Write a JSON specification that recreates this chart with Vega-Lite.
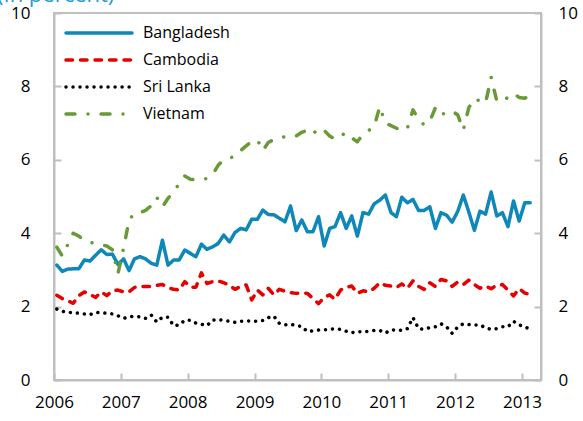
{
  "$schema": "https://vega.github.io/schema/vega-lite/v6.json",
  "width": 487,
  "height": 367,
  "autosize": {"type": "none"},
  "padding": {"left": 54, "top": 13, "right": 42, "bottom": 41},
  "background": "white",
  "config": {"view": {"stroke": "#bfbfbf", "strokeWidth": 2}, "font": "Open Sans"},
  "title": {"text": "(In percent)", "anchor": "start", "frame": "group", "baseline": "bottom", "color": "#1e9bd7", "fontSize": 22, "fontWeight": "normal", "font": "Open Sans", "dx": -57, "dy": 29},
  "data": {"values": [
    {"m":"2006-01","Bangladesh":3.13,"Cambodia":2.31,"Sri Lanka":1.93,"Vietnam":3.62},
    {"m":"2006-02","Bangladesh":2.96,"Cambodia":2.22,"Sri Lanka":1.87,"Vietnam":3.38},
    {"m":"2006-03","Bangladesh":3.02,"Cambodia":2.16,"Sri Lanka":1.85,"Vietnam":3.68},
    {"m":"2006-04","Bangladesh":3.03,"Cambodia":2.09,"Sri Lanka":1.83,"Vietnam":4.0},
    {"m":"2006-05","Bangladesh":3.03,"Cambodia":2.3,"Sri Lanka":1.82,"Vietnam":3.92},
    {"m":"2006-06","Bangladesh":3.27,"Cambodia":2.4,"Sri Lanka":1.8,"Vietnam":3.8},
    {"m":"2006-07","Bangladesh":3.24,"Cambodia":2.33,"Sri Lanka":1.78,"Vietnam":3.75},
    {"m":"2006-08","Bangladesh":3.4,"Cambodia":2.25,"Sri Lanka":1.84,"Vietnam":3.72},
    {"m":"2006-09","Bangladesh":3.55,"Cambodia":2.4,"Sri Lanka":1.83,"Vietnam":3.68},
    {"m":"2006-10","Bangladesh":3.42,"Cambodia":2.3,"Sri Lanka":1.82,"Vietnam":3.65},
    {"m":"2006-11","Bangladesh":3.43,"Cambodia":2.43,"Sri Lanka":1.8,"Vietnam":3.55},
    {"m":"2006-12","Bangladesh":3.15,"Cambodia":2.45,"Sri Lanka":1.75,"Vietnam":2.9},
    {"m":"2007-01","Bangladesh":3.3,"Cambodia":2.4,"Sri Lanka":1.68,"Vietnam":3.6},
    {"m":"2007-02","Bangladesh":2.98,"Cambodia":2.4,"Sri Lanka":1.72,"Vietnam":4.35},
    {"m":"2007-03","Bangladesh":3.3,"Cambodia":2.52,"Sri Lanka":1.74,"Vietnam":4.55},
    {"m":"2007-04","Bangladesh":3.36,"Cambodia":2.55,"Sri Lanka":1.72,"Vietnam":4.56},
    {"m":"2007-05","Bangladesh":3.3,"Cambodia":2.55,"Sri Lanka":1.68,"Vietnam":4.62},
    {"m":"2007-06","Bangladesh":3.18,"Cambodia":2.55,"Sri Lanka":1.77,"Vietnam":4.75},
    {"m":"2007-07","Bangladesh":3.13,"Cambodia":2.58,"Sri Lanka":1.58,"Vietnam":4.98},
    {"m":"2007-08","Bangladesh":3.81,"Cambodia":2.6,"Sri Lanka":1.71,"Vietnam":4.72},
    {"m":"2007-09","Bangladesh":3.13,"Cambodia":2.52,"Sri Lanka":1.71,"Vietnam":4.95},
    {"m":"2007-10","Bangladesh":3.27,"Cambodia":2.47,"Sri Lanka":1.48,"Vietnam":5.13},
    {"m":"2007-11","Bangladesh":3.27,"Cambodia":2.45,"Sri Lanka":1.5,"Vietnam":5.35},
    {"m":"2007-12","Bangladesh":3.54,"Cambodia":2.68,"Sri Lanka":1.63,"Vietnam":5.56},
    {"m":"2008-01","Bangladesh":3.45,"Cambodia":2.53,"Sri Lanka":1.63,"Vietnam":5.47},
    {"m":"2008-02","Bangladesh":3.36,"Cambodia":2.53,"Sri Lanka":1.55,"Vietnam":5.45},
    {"m":"2008-03","Bangladesh":3.7,"Cambodia":2.92,"Sri Lanka":1.52,"Vietnam":5.47},
    {"m":"2008-04","Bangladesh":3.56,"Cambodia":2.63,"Sri Lanka":1.48,"Vietnam":5.49},
    {"m":"2008-05","Bangladesh":3.63,"Cambodia":2.68,"Sri Lanka":1.63,"Vietnam":5.6},
    {"m":"2008-06","Bangladesh":3.72,"Cambodia":2.7,"Sri Lanka":1.65,"Vietnam":5.85},
    {"m":"2008-07","Bangladesh":3.95,"Cambodia":2.65,"Sri Lanka":1.62,"Vietnam":6.0},
    {"m":"2008-08","Bangladesh":3.76,"Cambodia":2.58,"Sri Lanka":1.6,"Vietnam":6.05},
    {"m":"2008-09","Bangladesh":4.02,"Cambodia":2.47,"Sri Lanka":1.57,"Vietnam":6.09},
    {"m":"2008-10","Bangladesh":4.13,"Cambodia":2.55,"Sri Lanka":1.6,"Vietnam":6.25},
    {"m":"2008-11","Bangladesh":4.09,"Cambodia":2.59,"Sri Lanka":1.61,"Vietnam":6.38},
    {"m":"2008-12","Bangladesh":4.38,"Cambodia":2.18,"Sri Lanka":1.61,"Vietnam":6.5},
    {"m":"2009-01","Bangladesh":4.38,"Cambodia":2.45,"Sri Lanka":1.6,"Vietnam":6.54},
    {"m":"2009-02","Bangladesh":4.63,"Cambodia":2.32,"Sri Lanka":1.62,"Vietnam":6.25},
    {"m":"2009-03","Bangladesh":4.51,"Cambodia":2.5,"Sri Lanka":1.7,"Vietnam":6.47},
    {"m":"2009-04","Bangladesh":4.5,"Cambodia":2.32,"Sri Lanka":1.74,"Vietnam":6.55},
    {"m":"2009-05","Bangladesh":4.41,"Cambodia":2.47,"Sri Lanka":1.54,"Vietnam":6.6},
    {"m":"2009-06","Bangladesh":4.31,"Cambodia":2.42,"Sri Lanka":1.5,"Vietnam":6.63},
    {"m":"2009-07","Bangladesh":4.74,"Cambodia":2.38,"Sri Lanka":1.52,"Vietnam":6.64},
    {"m":"2009-08","Bangladesh":4.07,"Cambodia":2.36,"Sri Lanka":1.48,"Vietnam":6.65},
    {"m":"2009-09","Bangladesh":4.36,"Cambodia":2.38,"Sri Lanka":1.46,"Vietnam":6.75},
    {"m":"2009-10","Bangladesh":4.04,"Cambodia":2.36,"Sri Lanka":1.32,"Vietnam":6.81},
    {"m":"2009-11","Bangladesh":4.04,"Cambodia":2.22,"Sri Lanka":1.34,"Vietnam":6.7},
    {"m":"2009-12","Bangladesh":4.45,"Cambodia":2.08,"Sri Lanka":1.36,"Vietnam":6.86},
    {"m":"2010-01","Bangladesh":3.65,"Cambodia":2.25,"Sri Lanka":1.37,"Vietnam":6.8},
    {"m":"2010-02","Bangladesh":4.13,"Cambodia":2.32,"Sri Lanka":1.38,"Vietnam":6.65},
    {"m":"2010-03","Bangladesh":4.18,"Cambodia":2.2,"Sri Lanka":1.4,"Vietnam":6.56},
    {"m":"2010-04","Bangladesh":4.56,"Cambodia":2.45,"Sri Lanka":1.38,"Vietnam":6.65},
    {"m":"2010-05","Bangladesh":4.13,"Cambodia":2.52,"Sri Lanka":1.33,"Vietnam":6.74},
    {"m":"2010-06","Bangladesh":4.47,"Cambodia":2.56,"Sri Lanka":1.29,"Vietnam":6.6},
    {"m":"2010-07","Bangladesh":3.92,"Cambodia":2.36,"Sri Lanka":1.32,"Vietnam":6.49},
    {"m":"2010-08","Bangladesh":4.56,"Cambodia":2.43,"Sri Lanka":1.31,"Vietnam":6.7},
    {"m":"2010-09","Bangladesh":4.52,"Cambodia":2.4,"Sri Lanka":1.33,"Vietnam":6.8},
    {"m":"2010-10","Bangladesh":4.8,"Cambodia":2.5,"Sri Lanka":1.35,"Vietnam":6.9},
    {"m":"2010-11","Bangladesh":4.9,"Cambodia":2.65,"Sri Lanka":1.35,"Vietnam":7.45},
    {"m":"2010-12","Bangladesh":5.04,"Cambodia":2.58,"Sri Lanka":1.28,"Vietnam":7.0},
    {"m":"2011-01","Bangladesh":4.56,"Cambodia":2.56,"Sri Lanka":1.36,"Vietnam":6.93},
    {"m":"2011-02","Bangladesh":4.45,"Cambodia":2.52,"Sri Lanka":1.37,"Vietnam":6.86},
    {"m":"2011-03","Bangladesh":4.98,"Cambodia":2.62,"Sri Lanka":1.35,"Vietnam":6.79},
    {"m":"2011-04","Bangladesh":4.83,"Cambodia":2.5,"Sri Lanka":1.4,"Vietnam":6.86},
    {"m":"2011-05","Bangladesh":4.92,"Cambodia":2.7,"Sri Lanka":1.7,"Vietnam":7.36},
    {"m":"2011-06","Bangladesh":4.62,"Cambodia":2.55,"Sri Lanka":1.4,"Vietnam":7.1},
    {"m":"2011-07","Bangladesh":4.62,"Cambodia":2.47,"Sri Lanka":1.38,"Vietnam":6.95},
    {"m":"2011-08","Bangladesh":4.72,"Cambodia":2.65,"Sri Lanka":1.43,"Vietnam":7.05},
    {"m":"2011-09","Bangladesh":4.13,"Cambodia":2.55,"Sri Lanka":1.45,"Vietnam":7.42},
    {"m":"2011-10","Bangladesh":4.56,"Cambodia":2.74,"Sri Lanka":1.53,"Vietnam":7.22},
    {"m":"2011-11","Bangladesh":4.49,"Cambodia":2.7,"Sri Lanka":1.45,"Vietnam":7.3},
    {"m":"2011-12","Bangladesh":4.3,"Cambodia":2.55,"Sri Lanka":1.27,"Vietnam":7.33},
    {"m":"2012-01","Bangladesh":4.6,"Cambodia":2.67,"Sri Lanka":1.45,"Vietnam":7.22},
    {"m":"2012-02","Bangladesh":5.04,"Cambodia":2.6,"Sri Lanka":1.53,"Vietnam":6.81},
    {"m":"2012-03","Bangladesh":4.58,"Cambodia":2.72,"Sri Lanka":1.51,"Vietnam":7.42},
    {"m":"2012-04","Bangladesh":4.08,"Cambodia":2.6,"Sri Lanka":1.5,"Vietnam":7.67},
    {"m":"2012-05","Bangladesh":4.6,"Cambodia":2.5,"Sri Lanka":1.5,"Vietnam":7.6},
    {"m":"2012-06","Bangladesh":4.52,"Cambodia":2.56,"Sri Lanka":1.42,"Vietnam":7.54},
    {"m":"2012-07","Bangladesh":5.12,"Cambodia":2.49,"Sri Lanka":1.38,"Vietnam":8.25},
    {"m":"2012-08","Bangladesh":4.47,"Cambodia":2.58,"Sri Lanka":1.4,"Vietnam":7.6},
    {"m":"2012-09","Bangladesh":4.56,"Cambodia":2.6,"Sri Lanka":1.45,"Vietnam":7.6},
    {"m":"2012-10","Bangladesh":4.18,"Cambodia":2.45,"Sri Lanka":1.45,"Vietnam":7.7},
    {"m":"2012-11","Bangladesh":4.88,"Cambodia":2.29,"Sri Lanka":1.6,"Vietnam":7.81},
    {"m":"2012-12","Bangladesh":4.33,"Cambodia":2.49,"Sri Lanka":1.5,"Vietnam":7.7},
    {"m":"2013-01","Bangladesh":4.83,"Cambodia":2.37,"Sri Lanka":1.45,"Vietnam":7.68},
    {"m":"2013-02","Bangladesh":4.83,"Cambodia":2.33,"Sri Lanka":1.38,"Vietnam":7.75}
  ]},
  "transform": [
    {"fold": ["Bangladesh", "Cambodia", "Sri Lanka", "Vietnam"], "as": ["country", "value"]}
  ],
  "encoding": {
    "x": {
      "field": "m", "type": "temporal", "timeUnit": "utcyearmonth", "bandPosition": 0.5,
      "scale": {"type": "utc", "domain": [{"year": 2006, "month": 1, "date": 1, "utc": true}, {"year": 2013, "month": 4, "date": 15, "utc": true}]},
      "axis": {
        "title": null, "format": "%Y", "grid": false,
        "values": [{"year": 2006, "utc": true}, {"year": 2007, "utc": true}, {"year": 2008, "utc": true}, {"year": 2009, "utc": true}, {"year": 2010, "utc": true}, {"year": 2011, "utc": true}, {"year": 2012, "utc": true}, {"year": 2013, "utc": true}],
        "domainColor": "#bfbfbf", "domainWidth": 2, "tickColor": "#bfbfbf", "tickWidth": 2, "tickSize": -7,
        "labelFontSize": 17, "labelColor": "#000000", "labelFont": "Open Sans", "labelPadding": 21, "labelFlush": false, "labelOverlap": false
      }
    },
    "y": {"field": "value", "type": "quantitative", "scale": {"domain": [0, 10], "nice": false}}
  },
  "layer": [
    {
      "mark": {"type": "line", "strokeWidth": 3.5, "strokeCap": "round", "strokeJoin": "round"},
      "encoding": {
        "y": {"field": "value", "type": "quantitative", "axis": {
          "orient": "left", "title": null, "grid": false, "values": [0, 2, 4, 6, 8, 10],
          "domainColor": "#bfbfbf", "domainWidth": 2, "tickColor": "#bfbfbf", "tickWidth": 2, "tickSize": -7,
          "labelFontSize": 17, "labelColor": "#000000", "labelFont": "Open Sans", "labelPadding": 31, "labelFlush": false}},
        "color": {"field": "country", "type": "nominal",
          "scale": {"domain": ["Bangladesh", "Cambodia", "Sri Lanka", "Vietnam"], "range": ["#0e87b9", "#e60000", "#000000", "#6a9a37"]},
          "legend": {"orient": "none", "legendX": 37, "legendY": 12, "title": null, "symbolType": "M-6,0H6", "symbolSize": 121, "symbolStrokeWidth": 3.5,
            "labelFontSize": 16, "labelFont": "Open Sans", "labelColor": "#000000", "labelOffset": 36, "rowPadding": 11,
            "encode": {"symbols": {"update": {"strokeCap": {"value": "round"}}}}}},
        "strokeDash": {"field": "country", "type": "nominal",
          "scale": {"domain": ["Bangladesh", "Cambodia", "Sri Lanka", "Vietnam"], "range": [[1, 0], [6.5, 8], [0.01, 7], [9, 13, 0.01, 13]]},
          "legend": {"orient": "none", "legendX": 37, "legendY": 12, "title": null, "symbolType": "M-6,0H6", "symbolSize": 121, "symbolStrokeWidth": 3.5,
            "labelFontSize": 16, "labelFont": "Open Sans", "labelColor": "#000000", "labelOffset": 36, "rowPadding": 11,
            "encode": {"symbols": {"update": {"strokeCap": {"value": "round"}}}}}}
      }
    },
    {
      "mark": {"type": "line", "opacity": 0},
      "encoding": {
        "detail": {"field": "country", "type": "nominal"},
        "y": {"field": "value", "type": "quantitative", "axis": {
          "orient": "right", "title": null, "grid": false, "values": [0, 2, 4, 6, 8, 10],
          "domainColor": "#bfbfbf", "domainWidth": 2, "tickColor": "#bfbfbf", "tickWidth": 2, "tickSize": -7,
          "labelFontSize": 17, "labelColor": "#000000", "labelFont": "Open Sans", "labelPadding": 24, "labelFlush": false}}
      }
    }
  ],
  "resolve": {"axis": {"y": "independent"}}
}
